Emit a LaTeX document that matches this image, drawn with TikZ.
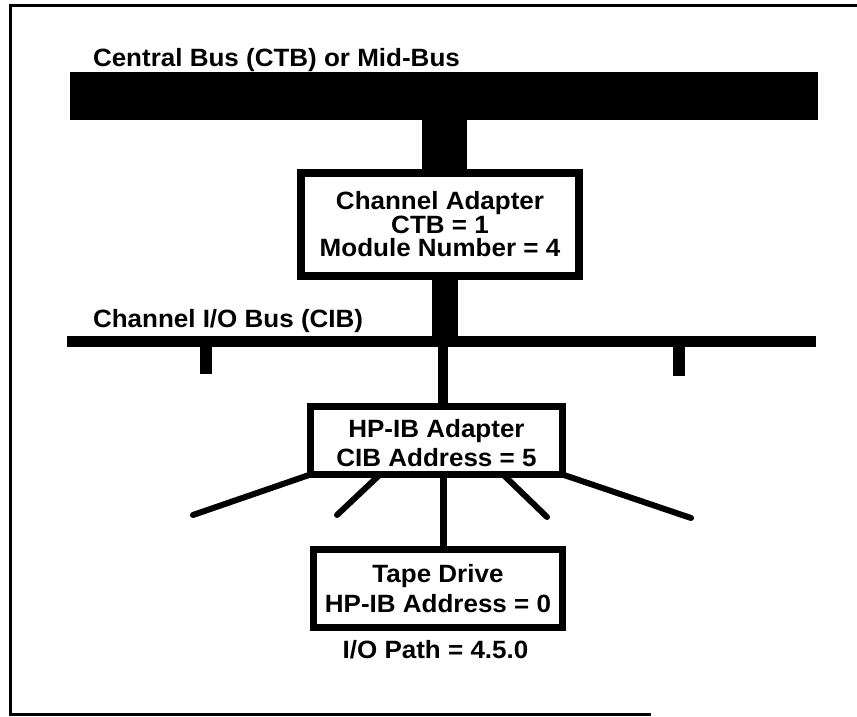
\documentclass[tikz,border=0pt]{standalone}
\usepackage{fontspec}
\setmainfont{Liberation Sans}[FakeStretch=1.04]
\usetikzlibrary{positioning}

\begin{document}
\begin{tikzpicture}[
    x=1pt, y=1pt,
    every node/.style={font=\bfseries\fontsize{25pt}{23.5pt}\selectfont, inner sep=0pt, outer sep=0pt},
    bus/.style={fill=black},
    box/.style={draw, line width=7pt, fill=white, align=center},
    stem/.style={line width=#1},
    fan/.style={line width=6pt, line cap=round},
    outline/.style={line width=3pt}
]
\useasboundingbox (0,0) rectangle (857,717);
\draw[outline] (857,711) -- (10,711) -- (10,2) -- (651,2);
\coordinate (spine) at (444.5,0);
\coordinate (trunk) at (443,0);
\node[anchor=base west] (ctblabel) at (93,650) {Central Bus (CTB) or Mid-Bus};
\node[bus, minimum width=748pt, minimum height=48pt] (ctb) at (444,621) {};
\node[box, line width=8pt, minimum width=278pt, minimum height=103pt, below=53pt of ctb, xshift=-4pt] (adapter) {Channel Adapter\\CTB = 1\\Module Number = 4};
\node[anchor=base west] (ciblabel) at (93,389) {Channel I/O Bus (CIB)};
\node[bus, minimum width=749pt, minimum height=11pt, below=60pt of adapter, xshift=1.5pt] (cib) {};
\node[box, minimum width=252pt, minimum height=68pt, below=59.5pt of cib, xshift=-5pt] (hpib) {\rule{0pt}{24pt}HP-IB Adapter\\[5.5pt]CIB Address = 5};
\node[box, minimum width=249pt, minimum height=78pt, below=75pt of hpib, xshift=1.5pt] (tape) {Tape Drive\\[6.5pt]HP-IB Address = 0};
\node[anchor=base, xshift=-2.5pt] (path) at ([yshift=-31.5pt]tape.south) {I/O Path = 4.5.0};
\coordinate (stubL) at (205.5,343);
\coordinate (stubR) at (679,341);
\coordinate (fanA) at (193,202);
\coordinate (fanB) at (337,202);
\coordinate (fanC) at (547,200);
\coordinate (fanD) at (691,199);
\draw[stem=45pt] (spine |- ctb.south) -- (spine |- adapter.north);
\draw[stem=26pt] (spine |- adapter.south) -- (spine |- cib.north);
\draw[stem=12pt] (stubL |- cib.south) -- (stubL);
\draw[stem=12pt] (stubR |- cib.south) -- (stubR);
\draw[stem=10pt] (trunk |- cib.south) -- (trunk |- hpib.north);
\draw[stem=7pt] (trunk |- hpib.south) -- (trunk |- tape.north);
\draw[fan] (hpib.south west) -- (fanA);
\draw[fan] ([xshift=-56.5pt]hpib.south) -- (fanB);
\draw[fan] ([xshift=66.5pt]hpib.south) -- (fanC);
\draw[fan] (hpib.south east) -- (fanD);
\end{tikzpicture}
\end{document}
